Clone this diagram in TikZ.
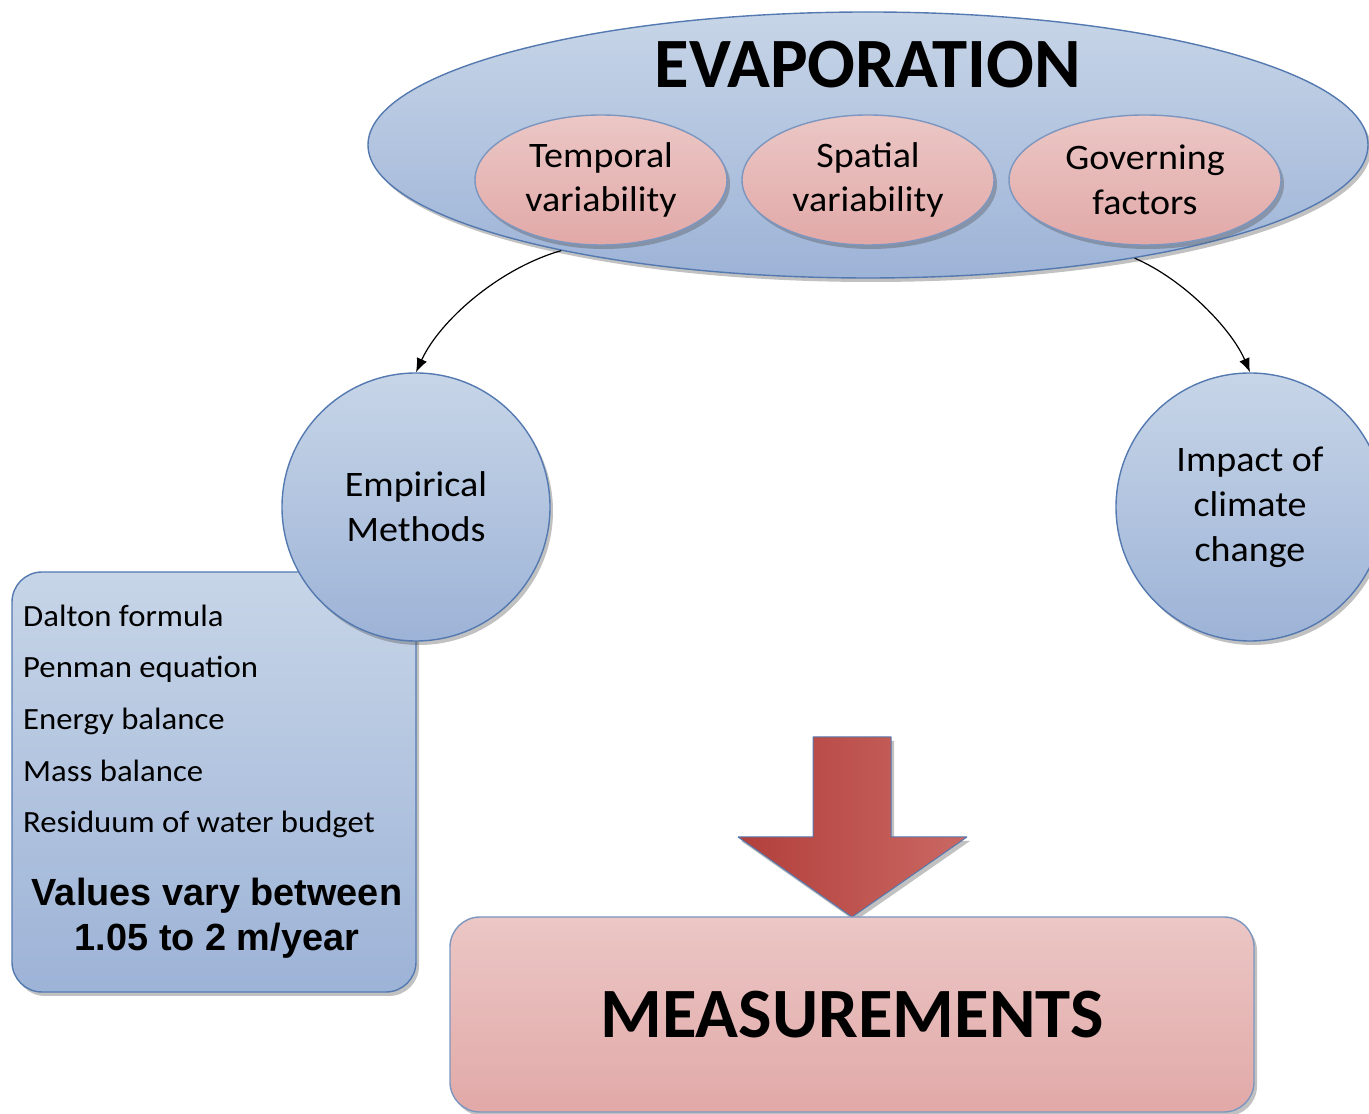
\documentclass[tikz,border=0pt]{standalone}
\usepackage{fontspec}
\setmainfont{Carlito}[FakeStretch=1.06]
\newfontfamily\titlefont{Carlito}
\newfontfamily\valuesfont{Liberation Sans}
\usetikzlibrary{shapes.geometric,shadows,arrows.meta}
\definecolor{blueTop}{HTML}{C7D5E7}
\definecolor{blueBot}{HTML}{9DB3D7}
\definecolor{blueLine}{HTML}{5479B0}
\definecolor{pinkTop}{HTML}{EBC7C5}
\definecolor{pinkBot}{HTML}{E1A9A8}
\definecolor{pinkLine}{HTML}{7C96C0}
\definecolor{redLeft}{HTML}{B23F3B}
\definecolor{redRight}{HTML}{CA6863}
\begin{document}
\begin{tikzpicture}[>={Latex[length=14bp,width=11bp]},line join=bevel,
  shade/.style={drop shadow={shadow xshift=3bp,shadow yshift=-4bp,fill=black!70,opacity=.35}},
  bluebody/.style={shade,top color=blueTop,bottom color=blueBot,draw=blueLine,line width=1.4bp},
  pinkbody/.style={shade,top color=pinkTop,bottom color=pinkBot,draw=pinkLine,line width=1.4bp},
  oval/.style={ellipse,inner sep=0pt,align=center,font=\fontsize{36}{45}\selectfont},
  disc/.style={circle,inner sep=0pt,minimum size=268bp,align=center,font=\fontsize{36}{45}\selectfont},
  item/.style={anchor=base west,inner sep=0pt,font=\fontsize{31}{36}\selectfont},
  ]
\useasboundingbox (0bp,0bp) rectangle (1369bp,1114bp);
%%
\node (evap) at (868bp,969bp) [oval,bluebody,minimum width=1000bp,minimum height=266bp] {};
  \node (evap_title) at (868bp,1026bp) [anchor=base,inner sep=0pt,font=\titlefont\bfseries\fontsize{71}{80}\selectfont] {EVAPORATION};
  \node (temporal) at (601bp,934bp) [oval,pinkbody,minimum width=252bp,minimum height=130bp] {Temporal\\variability};
  \node (spatial) at (868bp,934bp) [oval,pinkbody,minimum width=252bp,minimum height=130bp] {Spatial\\variability};
  \node (governing) at (1145bp,934bp) [oval,pinkbody,minimum width=272bp,minimum height=130bp] {Governing\\factors};
%
\node (methods_box) at (214bp,332bp) [bluebody,rectangle,rounded corners=30bp,minimum width=404bp,minimum height=420bp,inner sep=0pt] {};
  \node (empirical) at (416bp,607bp) [disc,bluebody] {Empirical\\Methods};
  \node (impact) at (1250bp,607bp) [disc,bluebody] {Impact of\\climate\\change};
  \node (item_1) at (23bp,487bp) [item] {Dalton formula};
  \node (item_2) at (23bp,436bp) [item] {Penman equation};
  \node (item_3) at (23bp,384bp) [item] {Energy balance};
  \node (item_4) at (23bp,332bp) [item] {Mass balance};
  \node (item_5) at (23bp,281bp) [item] {Residuum of water budget};
  \node (values) at (217bp,196bp) [align=center,inner sep=0pt,font=\valuesfont\bfseries\fontsize{38}{45}\selectfont] {Values vary between\\1.05 to 2 m/year};
%
\draw [black,line width=1.2bp,->] (evap.199) ..controls (500bp,846bp) and (440bp,794bp)  .. (empirical.north);
  \draw [black,line width=1.2bp,->] (evap.337) ..controls (1185bp,834bp) and (1232bp,784bp)  .. (impact.north);
%
\draw [shade,left color=redLeft,right color=redRight,draw=blueLine,line width=1bp]
  (813bp,377bp) -- (891bp,377bp) -- (891bp,277bp) -- (967bp,277bp) -- (852bp,197bp)
  -- (738bp,277bp) -- (813bp,277bp) -- cycle;
\node (measure) at (852bp,99.5bp) [pinkbody,rectangle,rounded corners=30bp,minimum width=804bp,minimum height=195bp,inner sep=0pt,font=\titlefont\bfseries\fontsize{71}{80}\selectfont] {MEASUREMENTS};
%
\end{tikzpicture}
\end{document}
